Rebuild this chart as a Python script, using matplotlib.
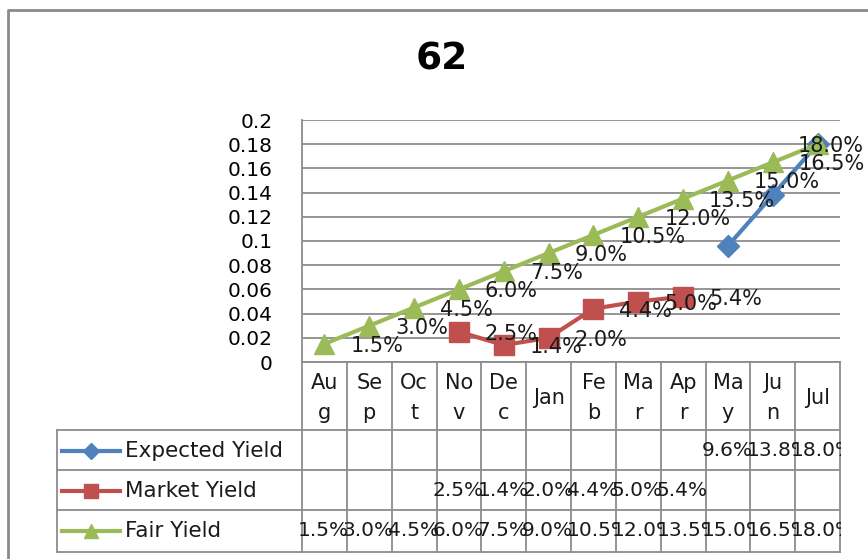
#!/usr/bin/env python3

import numpy as np
import matplotlib.pyplot as plt
from matplotlib.transforms import Bbox, TransformedBbox

# chart data
months = ["Au\ng", "Se\np", "Oc\nt", "No\nv", "De\nc", "Jan",
          "Fe\nb", "Ma\nr", "Ap\nr", "Ma\ny", "Ju\nn", "Jul"]
expected_yield = [np.nan] * 9 + [0.096, 0.138, 0.180]
market_yield = [np.nan, np.nan, np.nan, 0.025, 0.014, 0.020,
                0.044, 0.050, 0.054, np.nan, np.nan, np.nan]
fair_yield = [0.015, 0.030, 0.045, 0.060, 0.075, 0.090,
              0.105, 0.120, 0.135, 0.150, 0.165, 0.180]
y_ticks = np.round(np.arange(0, 0.201, 0.02), 2)
title = "62"

W, H = 868, 559
GRID = "#8c8c8c"
FONT = "DejaVu Sans"


def box(x0, y0, x1, y1):
    # pixel box (top-left origin) -> figure fraction rect
    return [x0 / W, 1 - y1 / H, (x1 - x0) / W, (y1 - y0) / H]


def main():
    plt.rcParams["font.family"] = FONT
    fig = plt.figure(figsize=(W / 100, H / 100), dpi=100)

    series = [
        ("Expected Yield", expected_yield, "#4F81BD", "D", 11, False),
        ("Market Yield", market_yield, "#C0504D", "s", 14, True),
        ("Fair Yield", fair_yield, "#9BBB59", "^", 14, True),
    ]

    # plot area
    ax = fig.add_axes(box(302, 120, 840, 362))
    x = np.arange(len(months))
    for name, vals, col, mk, ms, labels in series:
        ax.plot(x, vals, color=col, lw=3, marker=mk, markersize=ms,
                markeredgecolor=col, zorder=3, clip_on=False)
        if not labels:
            continue
        for i, v in enumerate(vals):
            if np.isnan(v):
                continue
            dx = -20 if i == len(months) - 1 else 26
            ax.annotate(f"{v * 100:.1f}%", (i, v), xytext=(dx, -2),
                        textcoords="offset pixels", ha="left", va="center",
                        fontsize=15, color="#1a1a1a", zorder=5,
                        annotation_clip=False)

    ax.set_xlim(-0.5, len(months) - 0.5)
    ax.set_ylim(0, 0.2)
    ax.set_yticks(y_ticks)
    ax.set_yticklabels([f"{v:g}" for v in y_ticks], fontsize=14.5)
    ax.set_xticks([])
    ax.tick_params(axis="y", length=0, pad=21)
    ax.yaxis.grid(True, color=GRID, lw=1.3)
    ax.set_axisbelow(True)
    for s in ["top", "right"]:
        ax.spines[s].set_visible(False)
    for s in ["left", "bottom"]:
        ax.spines[s].set_color(GRID)
        ax.spines[s].set_linewidth(1.3)

    # overlay in pixel coordinates for table, legend and border
    ov = fig.add_axes([0, 0, 1, 1])
    ov.set_xlim(0, W)
    ov.set_ylim(H, 0)
    ov.axis("off")
    ov.patch.set_visible(False)

    ov.plot([8, 8, W + 5], [H + 5, 10, 10], color="#8a8a8a", lw=2,
            clip_on=False)

    fig.text(442 / W, 1 - 59 / H, title, ha="center", va="center",
             fontsize=27, fontweight="bold")

    # data table
    tx0, tx1 = 302, 840
    cw = (tx1 - tx0) / len(months)
    edges = [tx0 + i * cw for i in range(len(months) + 1)]
    for e in edges:
        ov.plot([e, e], [362, 552], color=GRID, lw=1.3)
    row_lines = [430, 470, 510, 552]
    for r in row_lines:
        ov.plot([57, tx1], [r, r], color=GRID, lw=1.3)
    ov.plot([57, 57], [430, 552], color=GRID, lw=1.3)

    for i, m in enumerate(months):
        ov.text(edges[i] + cw / 2, 398, m, ha="center", va="center",
                fontsize=15, linespacing=1.6, color="#1a1a1a")

    row_centers = [451, 491, 531]
    for (name, vals, col, mk, ms, _), yc in zip(series, row_centers):
        ov.plot([62, 91, 120], [yc, yc, yc], color=col, lw=3, marker=mk,
                markersize=ms * 0.75, markevery=[1], markeredgecolor=col)
        ov.text(125, yc, name, ha="left", va="center", fontsize=15.5,
                color="#1a1a1a")
        for i, v in enumerate(vals):
            if np.isnan(v):
                continue
            t = ov.text(edges[i] - 4, yc, f"{v * 100:.1f}%", ha="left",
                        va="center", fontsize=14.5, color="#1a1a1a")
            clip = Bbox([[edges[i] - 6, yc - 20], [edges[i + 1] + 1, yc + 20]])
            t.set_clip_box(TransformedBbox(clip, ov.transData))
            t.set_clip_on(True)

    fig.savefig("out.png", dpi=100)


if __name__ == "__main__":
    main()
